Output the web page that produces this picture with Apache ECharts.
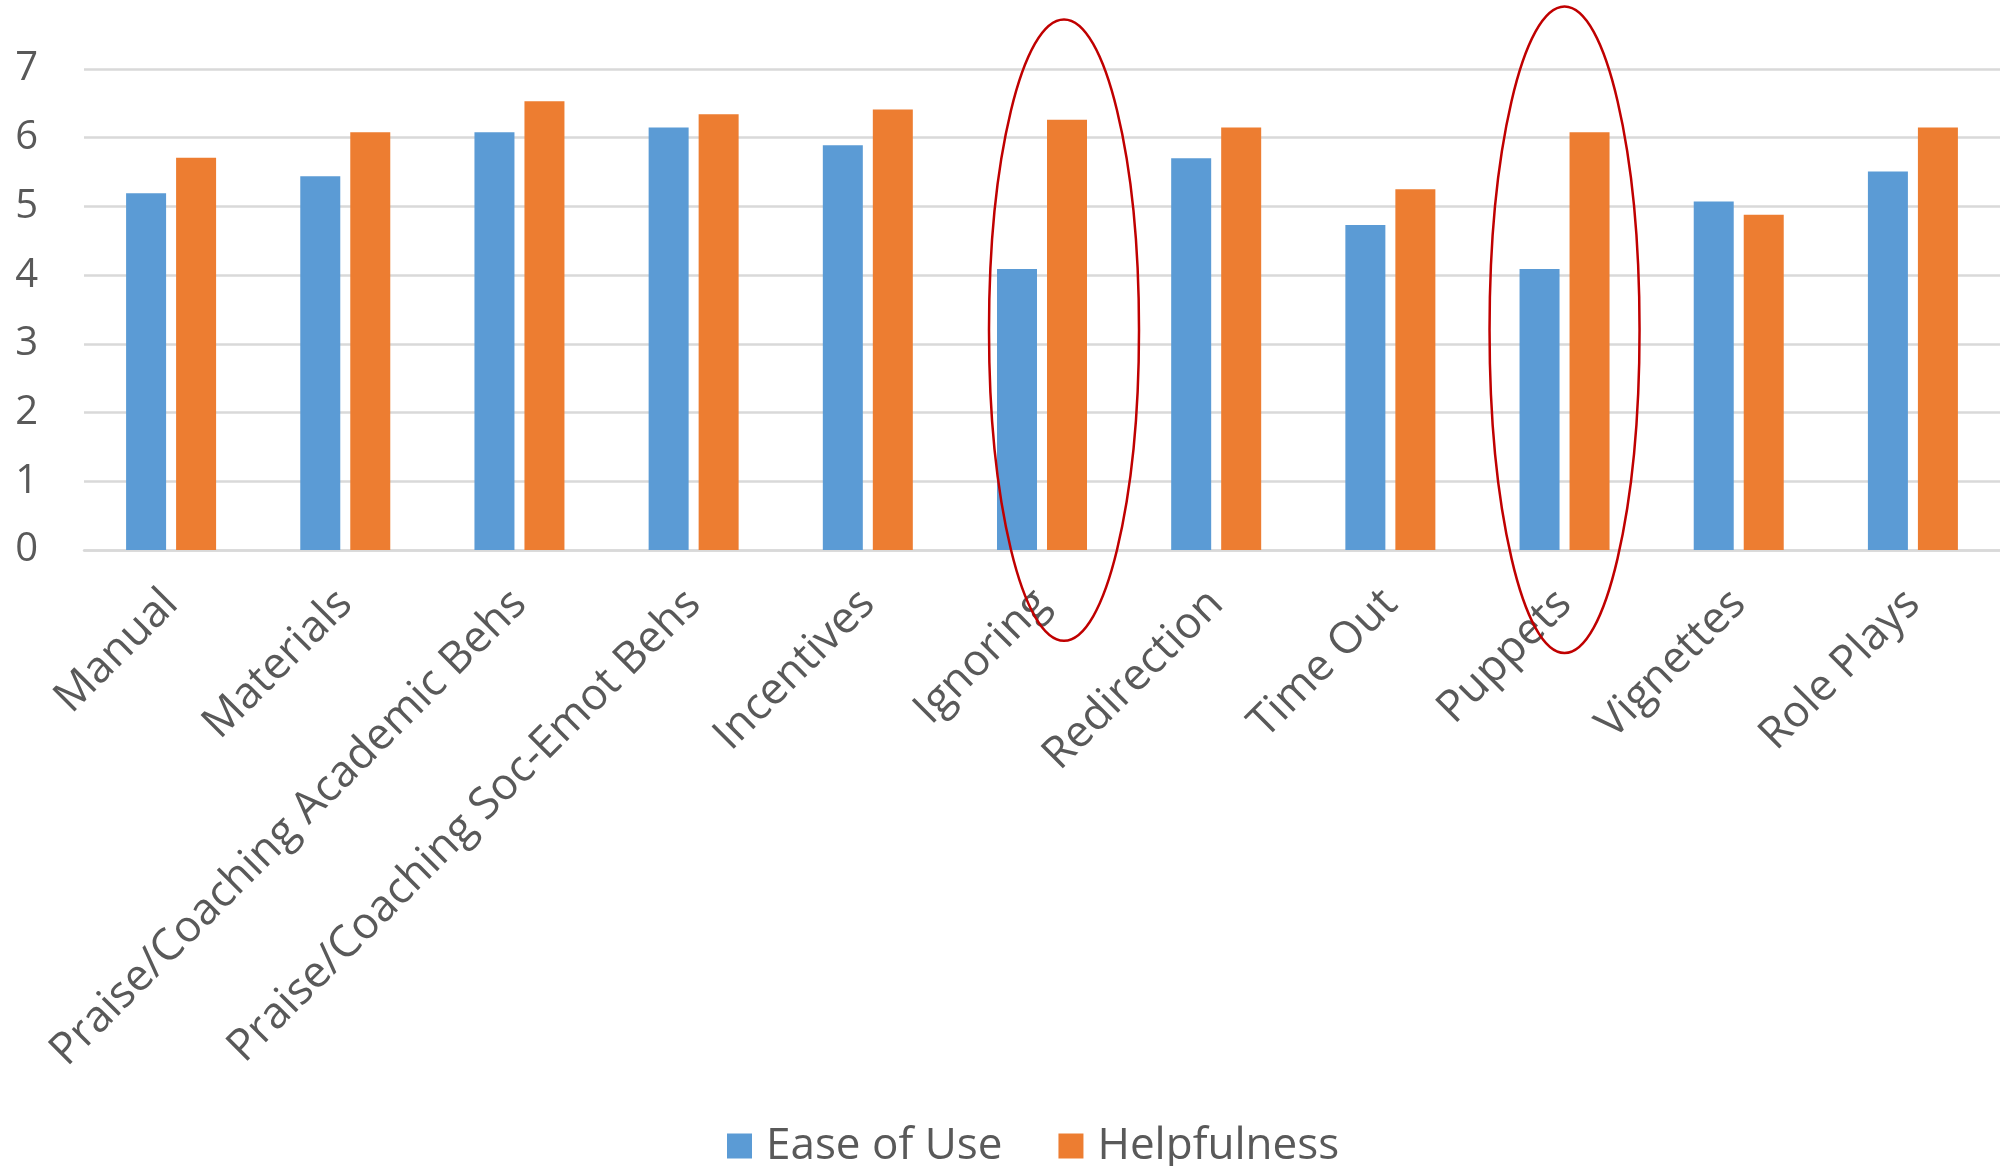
<!DOCTYPE html>
<html>
<head>
<meta charset="utf-8">
<script src="https://cdn.jsdelivr.net/npm/echarts@6/dist/echarts.min.js"></script>
<style>
  html, body { margin: 0; padding: 0; background: #fff; }
  #chart { width: 2000px; height: 1166px; }
</style>
</head>
<body>
<div id="chart"></div>
<script>
// Strategy ratings: mean scores per component
const categories = [
  'Manual', 'Materials', 'Praise/Coaching Academic Behs', 'Praise/Coaching Soc-Emot Behs',
  'Incentives', 'Ignoring', 'Redirection', 'Time Out', 'Puppets', 'Vignettes', 'Role Plays'
];
const easeOfUse   = [5.19, 5.44, 6.08, 6.15, 5.89, 4.09, 5.70, 4.73, 4.09, 5.07, 5.51];
const helpfulness = [5.71, 6.08, 6.53, 6.34, 6.41, 6.26, 6.15, 5.25, 6.08, 4.88, 6.15];
const yTicks = [0, 1, 2, 3, 4, 5, 6, 7];

// Highlighted items (ring drawn around the pair of bars)
const highlighted = ['Ignoring', 'Puppets'];

const FONT = '"Open Sans", "Noto Sans", sans-serif';
const TEXT = '#595959';
const GRID = '#D9D9D9';

const chart = echarts.init(document.getElementById('chart'), null, { renderer: 'canvas' });

const option = {
  animation: false,
  backgroundColor: '#ffffff',
  textStyle: { fontFamily: FONT },
  grid: { left: 84, right: 0, top: 69, bottom: 616 },
  legend: {
    data: ['Ease of Use', 'Helpfulness'],
    left: 727,
    top: 1124,
    padding: 0,
    itemWidth: 25,
    itemHeight: 25,
    itemGap: 56,
    icon: 'rect',
    textStyle: { fontFamily: FONT, fontSize: 44, color: TEXT, padding: [0, 0, 0, 9] }
  },
  xAxis: {
    type: 'category',
    data: categories,
    axisLine: { show: true, lineStyle: { color: GRID, width: 2.5 } },
    axisTick: { show: false },
    axisLabel: {
      rotate: 45,
      interval: 0,
      margin: 47,
      fontFamily: FONT,
      fontSize: 44,
      color: TEXT
    }
  },
  yAxis: {
    type: 'value',
    min: yTicks[0],
    max: yTicks[yTicks.length - 1],
    interval: 1,
    axisLine: { show: false },
    axisTick: { show: false },
    splitLine: { lineStyle: { color: GRID, width: 2.5 } },
    axisLabel: {
      margin: 46,
      fontFamily: FONT,
      fontSize: 40,
      color: TEXT,
      formatter: v => (yTicks.indexOf(v) >= 0 ? String(v) : '')
    }
  },
  series: [
    {
      name: 'Ease of Use',
      type: 'bar',
      data: easeOfUse,
      barWidth: 40,
      barGap: '25%',
      itemStyle: { color: '#5B9BD5' }
    },
    {
      name: 'Helpfulness',
      type: 'bar',
      data: helpfulness,
      barWidth: 40,
      barGap: '25%',
      itemStyle: { color: '#ED7D31' }
    }
  ]
};

chart.setOption(option);

// Red rings around the highlighted category pairs, placed through the axes
function drawRings() {
  const rings = [
    { name: highlighted[0], dx: 22, top: 7.72, bottom: -1.32 },
    { name: highlighted[1], dx: 0, top: 7.91, bottom: -1.50 }
  ];
  const elements = rings.map(r => {
    const pTop = chart.convertToPixel({ gridIndex: 0 }, [r.name, r.top]);
    const pBot = chart.convertToPixel({ gridIndex: 0 }, [r.name, r.bottom]);
    const cx = pTop[0] + r.dx;
    return {
      type: 'ellipse',
      shape: { cx: cx, cy: (pTop[1] + pBot[1]) / 2, rx: 75, ry: (pBot[1] - pTop[1]) / 2 },
      style: { fill: 'none', stroke: '#C00000', lineWidth: 2.5 },
      z: 100,
      silent: true
    };
  });
  chart.setOption({ graphic: { elements: elements } });
}
drawRings();
</script>
</body>
</html>
